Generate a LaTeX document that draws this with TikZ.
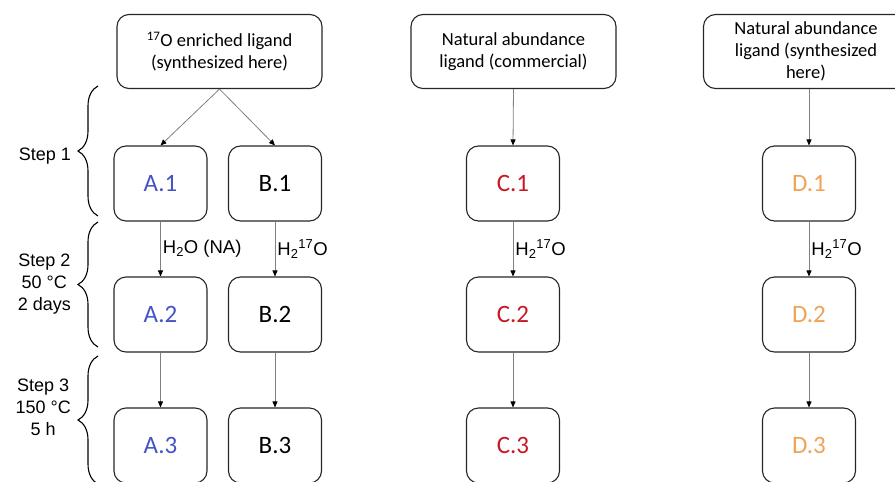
\documentclass[tikz,border=0pt]{standalone}
\usepackage{fontspec}
\setmainfont{Carlito}
\newfontfamily\stepfont{Liberation Sans}
\usetikzlibrary{arrows.meta,decorations.pathreplacing}
\definecolor{colA}{RGB}{68,84,196}
\definecolor{colC}{RGB}{200,24,36}
\definecolor{colD}{RGB}{240,162,86}
\begin{document}
\begin{tikzpicture}[x=1pt, y=-1pt, >={Triangle[length=6pt,width=5pt,color=black]},
    src/.style={draw=black!85, line width=1.1pt, rounded corners=12pt, minimum width=205pt,
      minimum height=74pt, align=center, font=\fontsize{18.5}{22}\selectfont},
    sample/.style={draw=black!85, line width=1.1pt, rounded corners=12pt, minimum width=93pt,
      minimum height=75pt, font=\fontsize{25}{28}\selectfont},
    flow/.style={->, draw=black!50, line width=0.8pt},
    cond/.style={right, inner sep=2pt, font=\stepfont\fontsize{18.5}{20}\selectfont},
    stepbrace/.style={decorate, decoration={brace, amplitude=20pt}, line width=1.1pt},
    steplabel/.style={left, align=center, inner sep=1pt, font=\stepfont\fontsize{18}{22}\selectfont}]
  \useasboundingbox (0,0) rectangle (895,482);
  \clip (0,0) rectangle (895,482);

  % 1. ligand sources
  \node[src] (lig17) at (219.5,51.5) {\textsuperscript{17}O enriched ligand\\(synthesized here)};
  \node[src] (natcom) at (513.5,51.5) {Natural abundance\\ligand (commercial)};
  \node[src] (natsyn) at (806,51.5) {Natural abundance\\ligand (synthesized\\here)};

  % 2. samples, one row per step
  \node[sample, text=colA] (A1) at (160.5,183.5) {A.1};
  \node[sample] (B1) at (275,183.5) {B.1};
  \node[sample, text=colC] (C1) at (513,183.5) {C.1};
  \node[sample, text=colD] (D1) at (809,183.5) {D.1};
  \node[sample, text=colA] (A2) at (160.5,314.5) {A.2};
  \node[sample] (B2) at (275,314.5) {B.2};
  \node[sample, text=colC] (C2) at (513,314.5) {C.2};
  \node[sample, text=colD] (D2) at (809,314.5) {D.2};
  \node[sample, text=colA] (A3) at (160.5,445.5) {A.3};
  \node[sample] (B3) at (275,445.5) {B.3};
  \node[sample, text=colC] (C3) at (513,445.5) {C.3};
  \node[sample, text=colD] (D3) at (809,445.5) {D.3};

  % 3. arrows
  \draw[flow] (lig17.south) -- (A1.north);
  \draw[flow] (lig17.south) -- (B1.north);
  \draw[flow] (natcom.south) -- (C1.north);
  \draw[flow] (natsyn.south -| D1.north) -- (D1.north);
  \draw[flow] (A1.south) -- node[cond] {H\textsubscript{2}O (NA)} (A2.north);
  \draw[flow] (B1.south) -- node[cond] {H\textsubscript{2}\textsuperscript{17}O} (B2.north);
  \draw[flow] (C1.south) -- node[cond] {H\textsubscript{2}\textsuperscript{17}O} (C2.north);
  \draw[flow] (D1.south) -- node[cond] {H\textsubscript{2}\textsuperscript{17}O} (D2.north);
  \draw[flow] (A2) -- (A3);
  \draw[flow] (B2) -- (B3);
  \draw[flow] (C2) -- (C3);
  \draw[flow] (D2) -- (D3);

  % 4. step braces and labels
  \draw[stepbrace] (98,216) -- (98,86);
  \draw[stepbrace] (98,347) -- (98,222);
  \draw[stepbrace] (98,484) -- (98,356);
  \node[steplabel] (s1) at (72,156) {Step 1};
  \node[steplabel] (s2) at (72,284.5) {Step 2\\50 °C\\2 days};
  \node[steplabel] (s3) at (72,407) {Step 3\\150 °C\\5 h};
\end{tikzpicture}
\end{document}
